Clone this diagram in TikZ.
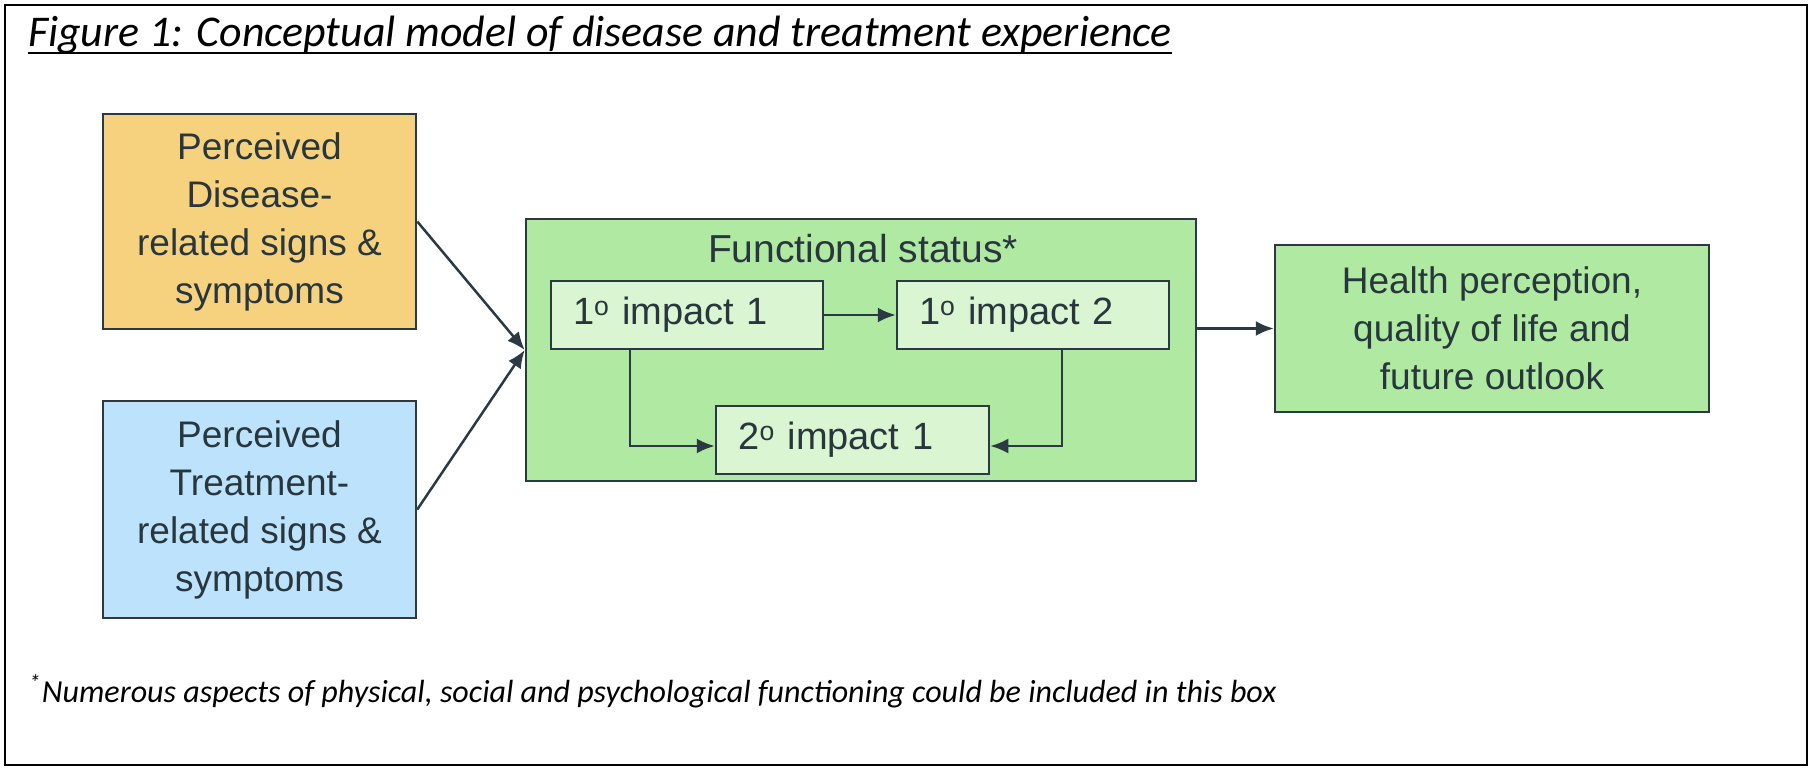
\documentclass[tikz,border=0pt]{standalone}
\usepackage{fontspec}
\setmainfont{Liberation Sans}
\newfontfamily\calibri{Carlito}
\usetikzlibrary{arrows.meta,calc}
\definecolor{edgec}{HTML}{2B3A42}
\definecolor{txtc}{HTML}{28363D}
\definecolor{orangebox}{HTML}{F6D27E}
\definecolor{bluebox}{HTML}{BCE3FB}
\definecolor{greenbox}{HTML}{B0E9A2}
\definecolor{lightgreen}{HTML}{DAF5D2}
\tikzset{
  box/.style={draw=edgec, line width=2.5pt, rectangle, inner sep=0pt, align=center, text=txtc,
    font=\fontsize{37}{48}\selectfont},
  impbox/.style={box, fill=lightgreen, minimum height=68pt, text width=228pt, align=left,
    font=\fontsize{38}{46}\selectfont},
  arr/.style={draw=edgec, line width=2.5pt, -{Latex[length=18pt,width=15pt]}},
}
\begin{document}
\begin{tikzpicture}[x=1pt,y=-1pt]
\useasboundingbox (0,0) rectangle (1814,770);
\draw[line width=2.5pt, black] (5,5) rectangle (1807,765);

% title
\node[anchor=base west, inner sep=0pt] (title) at (28,47)
  {\resizebox{1143pt}{!}{\calibri\itshape Figure 1: Conceptual model of disease and treatment experience}};
\draw[line width=2pt, black] ([yshift=-6pt]title.base west) -- ([yshift=-6pt]title.base east);

% left boxes
\node[box, fill=orangebox, minimum width=313pt, minimum height=215pt] (dis) at (259.5,221.5)
  {Perceived\\Disease-\\related signs \&\\symptoms};
\node[box, fill=bluebox, minimum width=313pt, minimum height=217pt] (treat) at (259.5,509.5)
  {Perceived\\Treatment-\\related signs \&\\symptoms};

% functional status
\node[box, fill=greenbox, minimum width=670pt, minimum height=262pt] (func) at (861,350) {};
\node[inner sep=0pt, text=txtc, font=\fontsize{39}{46}\selectfont] (ftitle) at (863,249) {Functional status*};

\node[impbox, minimum width=272pt, inner xsep=22pt] (imp1) at (687,315) {1\textsuperscript{o} impact 1};
\node[impbox, minimum width=272pt, inner xsep=22pt] (imp2) at (1033,315) {1\textsuperscript{o} impact 2};
\node[impbox, minimum width=273pt, inner xsep=20pt] (sec) at (852.5,440) {2\textsuperscript{o} impact 1};

% health
\node[box, fill=greenbox, minimum width=434pt, minimum height=167pt] (health) at (1492,328.5)
  {Health perception,\\quality of life and\\future outlook};

% connectors
\draw[arr] (dis.east) -- (func.west);
\draw[arr] (treat.east) -- (func.west);
\draw[arr] (imp1.east) -- (imp2.west);
\draw[arr] ([xshift=-57pt]imp1.south) |- ([yshift=-6pt]sec.west);
\draw[arr] ([xshift=29pt]imp2.south) |- ([yshift=-6pt]sec.east);
\draw[arr] (func.east |- health.west) -- (health.west);

% footnote
\node[anchor=base west, inner sep=0pt] (foot) at (29,702)
  {\resizebox{1247pt}{!}{\calibri\itshape \textsuperscript{*}Numerous aspects of physical, social and psychological functioning could be included in this box}};
\end{tikzpicture}
\end{document}
